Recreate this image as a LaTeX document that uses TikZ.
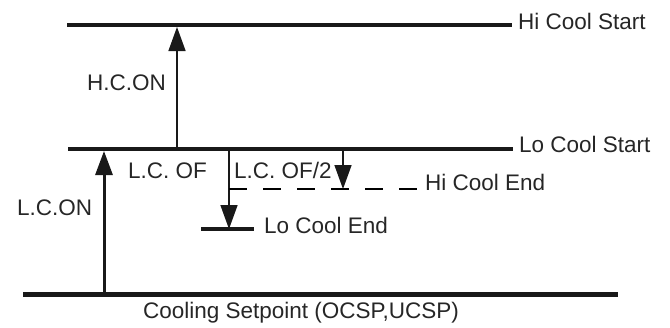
\documentclass[tikz,border=0pt]{standalone}
\usepackage{fontspec}
\setmainfont{Liberation Sans}
\usepackage{tikz}
\usetikzlibrary{arrows.meta,positioning}
\tikzset{
  lvl/.style={line width=3.5pt, draw=black!90},
  base/.style={line width=5pt, draw=black!90},
  up/.style={-{Triangle[length=24pt, width=17pt]}, line width=1.5pt, draw=black!90},
  tag/.style={inner sep=0pt, anchor=base west, text=black!85},
  half/.style={line width=1.5pt, dash pattern=on 18pt off 16pt}
}
\begin{document}
\begin{tikzpicture}[x=1pt, y=-1pt, font=\fontsize{22.5}{27}\selectfont]
\useasboundingbox (0,0) rectangle (670,327);
% level lines
\coordinate (hsL) at (67,25);  \coordinate (hsR) at (512,25);
\coordinate (lsL) at (68,149); \coordinate (lsR) at (513,149);
\coordinate (spL) at (23,294); \coordinate (spR) at (618,294);
\coordinate (leL) at (201,229); \coordinate (leR) at (254,229);
\draw[lvl] (hsL) -- (hsR);
\draw[lvl] (lsL) -- (lsR);
\draw[lvl] (leL) -- (leR);
\draw[base] (spL) -- (spR);
\node[tag] (hs) at (518,29) {Hi Cool Start};
\node[tag] (ls) at (519,152) {Lo Cool Start};
\node[tag] (le) at (264,233) {Lo Cool End};
\node[tag, anchor=base] (sp) at (301,318) {Cooling Setpoint (OCSP,UCSP)};
% steps
\coordinate (a1) at (104,294); \coordinate (a2) at (104,151);
\coordinate (b1) at (177,149); \coordinate (b2) at (177,27);
\coordinate (c1) at (229,149); \coordinate (c2) at (229,229);
\coordinate (d1) at (343,149); \coordinate (d2) at (343,189);
\coordinate (hL) at (229,189); \coordinate (hR) at (418,189);
\draw[up, line width=3pt] (a1) -- (a2);
\draw[up] (b1) -- (b2);
\draw[up] (c1) -- (c2);
\draw[up] (d1) -- (d2);
\draw[half] (hL) -- (hR);
\node[tag] (he) at (425,190) {Hi Cool End};
\node[tag] (lcon) at (17,215) {L.C.ON};
\node[tag, anchor=base east] (hcon) at (166,90) {H.C.ON};
\node[tag] (lcof) at (128,178) {L.C. OF};
\node[tag] (lcof2) at (234,178) {L.C. OF/2};
\end{tikzpicture}
\end{document}
